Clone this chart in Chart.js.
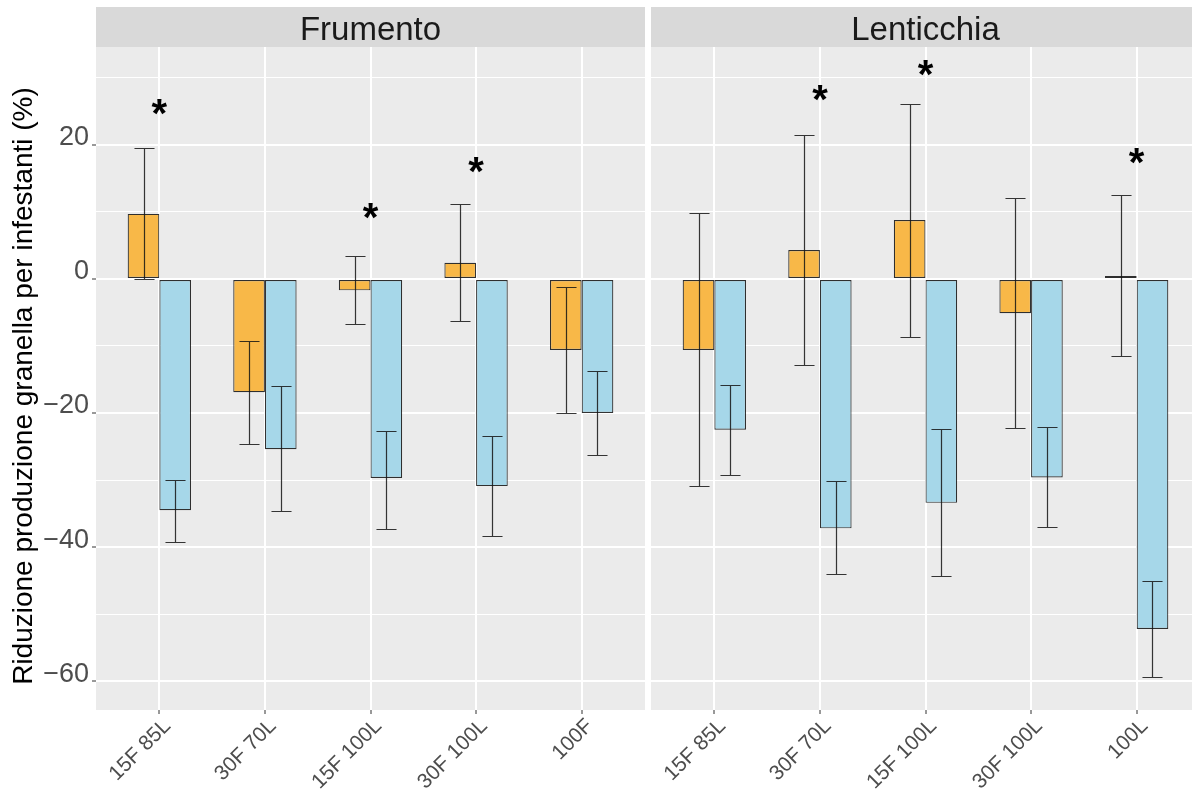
<!DOCTYPE html>
<html>
<head>
<meta charset="utf-8">
<script src="https://cdn.jsdelivr.net/npm/chart.js@4.4.1/dist/chart.umd.min.js"></script>
<style>
  html, body { margin: 0; padding: 0; background: #fff; overflow: hidden; width: 1192px; height: 791px; }
  canvas { position: absolute; top: 0; }
  #left { left: 0; }
  #right { left: 600px; }
</style>
</head>
<body>
<canvas id="left" width="645" height="791"></canvas>
<canvas id="right" width="600" height="791"></canvas>
<script>
// data
var yTitle = 'Riduzione produzione granella per infestanti (%)';
var panelFr = 'Frumento';
var panelLe = 'Lenticchia';

var catsFr = ['15F 85L', '30F 70L', '15F 100L', '30F 100L', '100F'];
var catsLe = ['15F 85L', '30F 70L', '15F 100L', '30F 100L', '100L'];

var frOrange   = [9.7, -16.9, -1.7, 2.4, -10.6];
var frOrangeLo = [0, -24.6, -6.7, -6.3, -20.0];
var frOrangeHi = [19.6, -9.3, 3.4, 11.2, -1.2];
var frBlue     = [-34.5, -25.4, -29.7, -30.9, -20.0];
var frBlueLo   = [-39.3, -34.6, -37.3, -38.4, -26.3];
var frBlueHi   = [-30.0, -16.0, -22.7, -23.4, -13.7];
var frStars    = [25.7, null, 10.1, 17.0, null];

var leOrange   = [-10.6, 4.3, 8.8, -5.1, 0.45];
var leOrangeLo = [-30.9, -12.8, -8.7, -22.2, -11.5];
var leOrangeHi = [9.85, 21.5, 26.1, 12.1, 12.5];
var leBlue     = [-22.5, -37.2, -33.4, -29.6, -52.2];
var leBlueLo   = [-29.3, -44.0, -44.3, -37.0, -59.4];
var leBlueHi   = [-15.8, -30.1, -22.4, -22.1, -45.1];
var leStars    = [null, 27.8, 31.5, null, 18.4];

var yTicks = [-60, -50, -40, -30, -20, -10, 0, 10, 20, 30];

var orange = '#F8B848';
var blue = '#A6D7E9';
var font = '"Liberation Sans", Arial, Helvetica, sans-serif';

function pts(vals) {
  return vals.map(function (v, i) { return { x: i + 1, y: v }; });
}

// grey panel, facet strip and the y title
var panelBg = {
  id: 'panelBg',
  beforeDraw: function (chart, args, opts) {
    var a = chart.chartArea, ctx = chart.ctx;
    ctx.save();
    ctx.fillStyle = '#EBEBEB';
    ctx.fillRect(a.left, a.top, a.right - a.left, a.bottom - a.top);
    ctx.fillStyle = '#D9D9D9';
    ctx.fillRect(a.left, 7, a.right - a.left, a.top - 7);
    ctx.fillStyle = '#1A1A1A';
    ctx.font = '33px ' + font;
    ctx.textAlign = 'center';
    ctx.textBaseline = 'alphabetic';
    ctx.fillText(opts.text, (a.left + a.right) / 2, 40);
    if (opts.yTitle) {
      ctx.translate(32, 386);
      ctx.rotate(-Math.PI / 2);
      ctx.font = '28px ' + font;
      ctx.fillStyle = '#000';
      ctx.fillText(opts.yTitle, 0, 0);
    }
    ctx.restore();
  }
};

// error bars + significance stars
var errorBars = {
  id: 'errorBars',
  afterDatasetsDraw: function (chart, args, opts) {
    var ctx = chart.ctx, xs = chart.scales.x, ys = chart.scales.y;
    var half = (xs.getPixelForValue(1.1) - xs.getPixelForValue(1)) * 0.95;
    ctx.save();
    ctx.strokeStyle = 'rgba(20,20,20,0.85)';
    ctx.lineWidth = 1.2;
    opts.ranges.forEach(function (r, d) {
      var meta = chart.getDatasetMeta(d);
      meta.data.forEach(function (bar, i) {
        var x = Math.round(bar.x) + 0.5;
        var lo = Math.round(ys.getPixelForValue(r.lo[i])) + 0.5;
        var hi = Math.round(ys.getPixelForValue(r.hi[i])) + 0.5;
        ctx.beginPath();
        ctx.moveTo(x, lo); ctx.lineTo(x, hi);
        ctx.moveTo(x - half, lo); ctx.lineTo(x + half, lo);
        ctx.moveTo(x - half, hi); ctx.lineTo(x + half, hi);
        ctx.stroke();
      });
    });
    ctx.fillStyle = '#000';
    ctx.font = 'bold 40px ' + font;
    ctx.textAlign = 'center';
    ctx.textBaseline = 'alphabetic';
    var m = ctx.measureText('*');
    var mid = (m.actualBoundingBoxAscent - m.actualBoundingBoxDescent) / 2;
    opts.stars.forEach(function (v, i) {
      if (v === null) return;
      ctx.fillText('*', xs.getPixelForValue(i + 1), ys.getPixelForValue(v) + mid);
    });
    ctx.restore();
  }
};

function makeChart(id, cats, oVals, bVals, ranges, stars, strip, showY, yWidth) {
  return new Chart(document.getElementById(id), {
    type: 'bar',
    data: {
      datasets: [
        { data: pts(oVals), backgroundColor: orange, borderColor: 'rgba(0,0,0,0.8)', borderWidth: 1.2, borderSkipped: false },
        { data: pts(bVals), backgroundColor: blue, borderColor: 'rgba(0,0,0,0.8)', borderWidth: 1.2, borderSkipped: false }
      ]
    },
    options: {
      responsive: false,
      animation: false,
      devicePixelRatio: 1,
      layout: { padding: { top: 47, left: 0, right: 0, bottom: 0 } },
      datasets: { bar: { categoryPercentage: 0.6, barPercentage: 1 } },
      plugins: {
        legend: { display: false },
        tooltip: { enabled: false },
        panelBg: { text: strip, yTitle: showY ? yTitle : null },
        errorBars: { ranges: ranges, stars: stars }
      },
      scales: {
        x: {
          type: 'linear', min: 0.4, max: 5.6, offset: false,
          afterBuildTicks: function (s) { s.ticks = cats.map(function (c, i) { return { value: i + 1 }; }); },
          afterFit: function (s) { s.height = 81; s.paddingLeft = 0; s.paddingRight = 0; },
          grid: { color: '#fff', lineWidth: 2, offset: false, drawTicks: true, tickLength: 4, tickColor: '#333', tickWidth: 1 },
          border: { display: false },
          ticks: {
            autoSkip: false, minRotation: 45, maxRotation: 45, padding: 0, labelOffset: 8,
            color: '#4D4D4D', font: { family: font, size: 21 },
            callback: function (v, i) { return cats[i]; }
          }
        },
        y: {
          min: -64.3, max: 34.6,
          afterBuildTicks: function (s) { s.ticks = yTicks.map(function (v) { return { value: v }; }); },
          afterFit: function (s) { s.width = yWidth; s.paddingTop = 0; s.paddingBottom = 0; },
          grid: {
            color: '#fff',
            lineWidth: function (c) { return c.tick && c.tick.value % 20 === 0 ? 2 : 1; },
            drawTicks: showY, tickLength: 4, tickWidth: 1,
            tickColor: function (c) { return c.tick && c.tick.value % 20 === 0 ? '#333' : 'rgba(0,0,0,0)'; }
          },
          border: { display: false },
          ticks: {
            display: showY, padding: 3, labelOffset: -7,
            color: '#4D4D4D', font: { family: font, size: 27 },
            callback: function (v) {
              if (v % 20 !== 0) return '';
              return v < 0 ? '\u2212' + Math.abs(v) : String(v);
            }
          }
        }
      }
    },
    plugins: [panelBg, errorBars]
  });
}

makeChart('left', catsFr, frOrange, frBlue,
  [{ lo: frOrangeLo, hi: frOrangeHi }, { lo: frBlueLo, hi: frBlueHi }],
  frStars, panelFr, true, 96);

makeChart('right', catsLe, leOrange, leBlue,
  [{ lo: leOrangeLo, hi: leOrangeHi }, { lo: leBlueLo, hi: leBlueHi }],
  leStars, panelLe, false, 51);
</script>
</body>
</html>
